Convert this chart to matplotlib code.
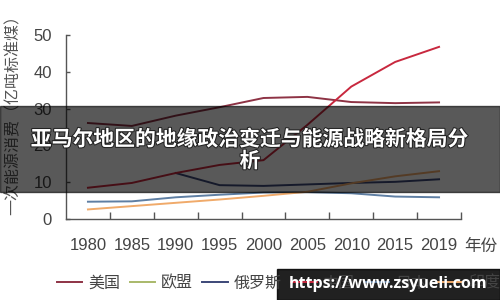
import numpy as np
import matplotlib
matplotlib.use('Agg')
from matplotlib import pyplot as plt
from matplotlib.patches import Rectangle
import matplotlib.patheffects as pe

plt.rcParams['font.family'] = ['Liberation Sans', 'Noto Sans CJK SC']

years = ['1980', '1985', '1990', '1995', '2000', '2005', '2010', '2015', '2019']
series_names = ['美国', '欧盟', '俄罗斯', '中国', '日本', '印度']
usa = [26.1, 25.3, 28.1, 30.4, 32.9, 33.2, 31.8, 31.5, 31.7]
eu = [np.nan] * 9
russia = [np.nan, np.nan, 12.5, 9.2, 9.0, 9.4, 9.8, 10.1, 10.8]
china = [8.5, 9.8, 12.5, 14.7, 16.0, 25.6, 36.0, 42.7, 46.8]
japan = [4.7, 4.8, 5.9, 6.6, 7.2, 7.3, 7.0, 6.1, 5.9]
india = [2.6, 3.5, 4.4, 5.3, 6.3, 7.4, 9.7, 11.6, 13.0]
colors = ['#8e3345', '#a9b96a', '#3c4878', '#c8283e', '#5f7fa3', '#f0aa6a']

fig = plt.figure(figsize=(5, 3), dpi=100)
ax = fig.add_axes([0.132, 0.27, 0.79, 0.613])

x = np.arange(len(years))
for vals, name, c in zip([usa, eu, russia, china, japan, india], series_names, colors):
    ax.plot(x, vals, color=c, lw=1.4, label=name)

ax.set_xlim(-0.5, len(years) - 0.5)
ax.set_ylim(0, 50)
ax.set_yticks(range(0, 51, 10))
ax.set_xticks(x)
ax.set_xticklabels(years)
ax.set_xticks(np.arange(0.5, len(years), 1), minor=True)
ax.tick_params(axis='x', which='major', length=0, pad=14, labelsize=12, colors='#444444')
ax.tick_params(axis='x', which='minor', direction='in', length=5, width=1, color='#555555')
ax.tick_params(axis='y', direction='in', length=3, width=1, color='#555555',
               pad=10, labelsize=12, labelcolor='#444444')
for s in ['top', 'right']:
    ax.spines[s].set_visible(False)
for s in ['left', 'bottom']:
    ax.spines[s].set_color('#555555')
    ax.spines[s].set_linewidth(1)

fig.text(0.962, 0.177, '年份', fontsize=12, color='#444444', ha='center', va='center')
fig.text(0.026, 0.63, '一次能源消费（亿吨标准煤）', rotation=90, fontsize=11.5,
         color='#555555', ha='center', va='center')

fig.legend(loc='center left', bbox_to_anchor=(0.085, 0.057), ncol=6, frameon=False,
           fontsize=11.5, handlelength=1.6, columnspacing=0.6, handletextpad=0.35,
           labelcolor='#444444')

# dark banner with title
fig.patches.append(Rectangle((0, 0.36), 1, 0.287, transform=fig.transFigure,
                             color='black', alpha=0.65, zorder=5))
fig.text(0.5, 0.5, '亚马尔地区的地缘政治变迁与能源战略新格局分\n析',
         fontsize=15, fontweight='bold', color='white', ha='center', va='center',
         family='Noto Sans CJK SC', linespacing=1.05, zorder=6,
         path_effects=[pe.withStroke(linewidth=1.5, foreground='#222222')])

# watermark
fig.patches.append(Rectangle((0.554, 0), 0.446, 0.103, transform=fig.transFigure,
                             color='black', alpha=0.87, zorder=5))
fig.text(0.777, 0.053, 'https://www.zsyueli.com', fontsize=11.5, fontweight='bold',
         color='white', ha='center', va='center', family='Open Sans', zorder=6)

fig.savefig('out.png', dpi=100)
